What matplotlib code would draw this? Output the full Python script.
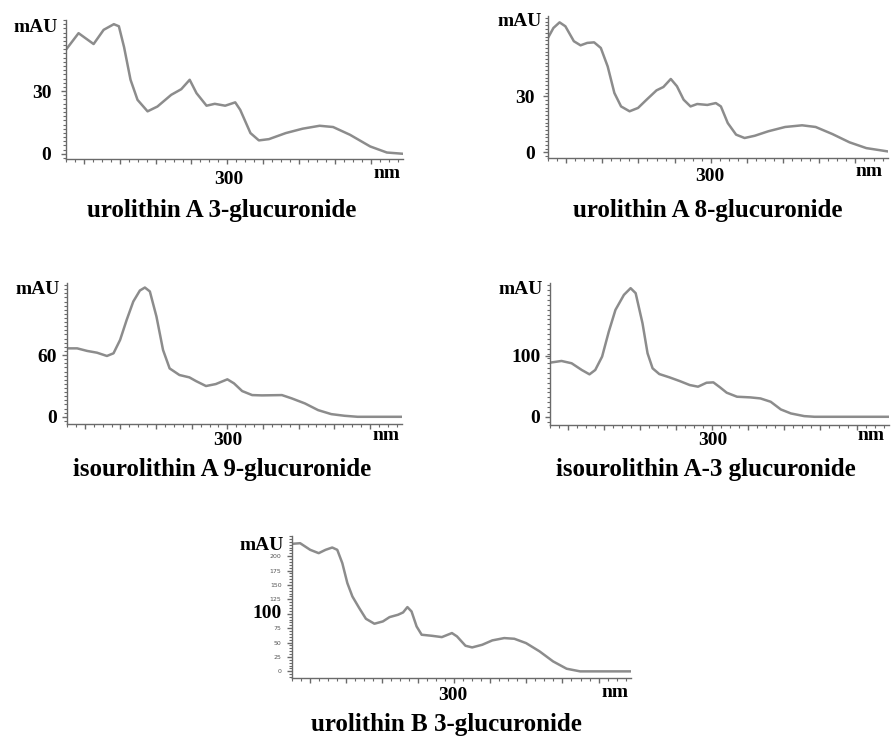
"""UV spectra of urolithin glucuronides (DAD, 210-400 nm)."""

import matplotlib

matplotlib.use("Agg")
import matplotlib.pyplot as plt
from matplotlib.ticker import MultipleLocator, FixedLocator

W, H = 891, 743
SERIF = "Liberation Serif"
CURVE = "#8c8c8c"
AXIS = "#6a6a6a"
LABEL_SIZE = 14
TITLE_SIZE = 18

# urolithin A 3-glucuronide
uroA3_nm = [210, 217, 225.4, 231, 236.7, 239.5, 242.4, 246, 249.9, 255.5, 261, 268.7,
            274.3, 279, 282.8, 288.4, 293, 298.8, 304.4, 307.2, 312.9, 317.6, 323.2,
            332.6, 342, 351.5, 359, 368.4, 379.7, 389, 398]
uroA3_mau = [49.8, 57.7, 52.5, 59.3, 62, 61, 51, 35.4, 25.8, 20.3, 22.6, 28.2,
             30.9, 35.4, 29, 23, 23.9, 23, 24.6, 21, 9.9, 6.4, 7,
             9.9, 12, 13.4, 12.8, 9.1, 3.5, 0.6, 0]

# urolithin A 8-glucuronide
uroA8_nm = [210, 213, 216.4, 219.6, 224.3, 228, 231.7, 235.5, 239.2, 243, 246.7, 250.4,
            255.1, 259.8, 264.5, 270, 273.8, 277.9, 281.3, 285, 288.8, 292.5, 298.1,
            302.8, 305.6, 309.4, 314, 318.7, 324.3, 331.8, 341.1, 350.5, 358, 367.3,
            376.7, 386, 398]
uroA8_mau = [61.3, 66.6, 69.6, 67.5, 59.5, 57.3, 58.6, 58.9, 55.9, 46, 31.8, 24.6,
             22, 23.8, 28.2, 33.2, 35, 39.3, 35.4, 28.2, 24.6, 25.9, 25.4,
             26.4, 24.6, 15.7, 9.5, 7.7, 8.9, 11.3, 13.6, 14.5, 13.6, 9.8,
             5.4, 2.3, 0.5]

# isourolithin A 9-glucuronide
iso9_nm = [210, 215.7, 221.3, 226.8, 232.4, 236.1, 239.8, 243.5, 247.2, 250.9, 253.7,
           256.5, 260.2, 263.9, 267.6, 273.1, 278.7, 282.4, 288, 293.5, 300, 303.7,
           308.3, 313.9, 319.4, 330.6, 336.1, 343.5, 350.9, 358.3, 365.7, 373.1, 398]
iso9_mau = [66.5, 66.5, 64, 62.3, 59.1, 61.7, 74.7, 94.2, 112, 122.7, 125.6,
            121.8, 97.4, 64.9, 47, 40.6, 38.3, 34.7, 29.9, 31.8, 36.4, 32.5,
            25, 21.1, 20.8, 21.1, 17.9, 13, 6.5, 2.6, 1, 0, 0]

# isourolithin A 3-glucuronide
iso3_nm = [210, 216.4, 222, 227.6, 231.9, 235.1, 238.9, 242.6, 246.3, 251, 254.7,
           257.5, 261.3, 264.1, 266.9, 270.6, 276.3, 281.9, 287.5, 292.1, 296.8,
           300.6, 304.3, 308, 313.7, 321.1, 326.7, 332.4, 338, 343.6, 351, 356.7, 398]
iso3_mau = [89, 91.8, 88, 77, 69.8, 77, 99, 140, 175.8, 200.5, 211.5,
            203.3, 153.8, 104.4, 79.7, 70.3, 64.8, 58.8, 52.2, 49.5, 56,
            56.6, 48.4, 39.6, 33, 31.9, 30.2, 24.7, 12.1, 5.5, 1.1, 0, 0]

# urolithin B 3-glucuronide
uroB3_nm = [210, 214.5, 220.1, 224.8, 228.6, 232.3, 235.1, 237.9, 240.7, 243.5, 247.3,
            251, 255.7, 260.4, 264.1, 268.8, 271.6, 274, 276.3, 279.1, 281.9, 287.5,
            293.1, 298.7, 301.5, 306.2, 309.9, 315.5, 321.1, 327.7, 333.3, 339.8,
            347.3, 354.8, 362.3, 369.8, 398]
uroB3_mau = [221.4, 222.5, 211, 205.2, 211, 215, 211, 187.9, 153.2, 130, 109.8,
             91.3, 82.7, 86.7, 94.2, 98.3, 102.3, 111.6, 104, 78, 63.6, 61.8,
             59.5, 66.5, 60.7, 44.5, 41.6, 46.2, 53.8, 57.8, 56.6, 49.1,
             34.7, 17.3, 4.6, 0, 0]
uroB3_small_ticks = [0, 25, 50, 75, 125, 150, 175, 200]

fig = plt.figure(figsize=(W / 100, H / 100), dpi=100)


def px(x, y):
    return x / W, 1 - y / H


def add_axes(left, right, top, bottom):
    return fig.add_axes([left / W, 1 - bottom / H, (right - left) / W, (bottom - top) / H])


def text(x, y, s, size=LABEL_SIZE, ha="center", **kw):
    fig.text(*px(x, y), s, fontsize=size, ha=ha, va="center",
             family=SERIF, weight="bold", **kw)


def spectrum(box, nm, mau, ylim, yminor, yticks, ylabels, pad=5.5):
    ax = add_axes(*box)
    ax.plot(nm, mau, color=CURVE, lw=1.8, solid_capstyle="round", solid_joinstyle="round")
    ax.set_xlim(210, 398)
    ax.set_ylim(*ylim)
    for side in ("top", "right"):
        ax.spines[side].set_visible(False)
    for side in ("left", "bottom"):
        ax.spines[side].set_color(AXIS)
        ax.spines[side].set_linewidth(1.0)
    ax.xaxis.set_major_locator(MultipleLocator(20))
    ax.xaxis.set_minor_locator(MultipleLocator(5))
    ax.set_xticklabels([])
    ax.yaxis.set_major_locator(FixedLocator(yticks))
    ax.yaxis.set_minor_locator(MultipleLocator(yminor))
    ax.set_yticklabels(ylabels)
    ax.tick_params(which="major", length=3.5, width=1.0, color=AXIS)
    ax.tick_params(axis="y", which="major", pad=pad)
    ax.tick_params(which="minor", length=2, width=0.8, color=AXIS)
    for lab in ax.get_yticklabels():
        lab.set_fontfamily(SERIF)
        lab.set_fontweight("bold")
        lab.set_fontsize(LABEL_SIZE)
    return ax


spectrum((66, 403, 20, 159), uroA3_nm, uroA3_mau, (-2.5, 64), 2, [0, 30], ["0", "30"],
         pad=7)
text(35.5, 27, "mAU")
text(229, 179.5, "300")
text(387, 173, "nm")
text(222, 211, "urolithin A 3-glucuronide", size=TITLE_SIZE)

spectrum((548, 888, 16, 158), uroA8_nm, uroA8_mau, (-3, 73), 2, [0, 30], ["0", "30"],
         pad=6)
text(519.5, 21.5, "mAU")
text(710, 176.5, "300")
text(868.5, 172, "nm")
text(708, 211, "urolithin A 8-glucuronide", size=TITLE_SIZE)

spectrum((67, 402, 283, 424), iso9_nm, iso9_mau, (-7, 130), 4, [0, 60], ["0", "60"],
         pad=3.5)
text(38, 289.5, "mAU")
text(228, 441, "300")
text(386, 436, "nm")
text(222, 470, "isourolithin A 9-glucuronide", size=TITLE_SIZE)

spectrum((550, 889, 283, 425), iso3_nm, iso3_mau, (-13.5, 220), 8, [0, 100], ["0", "100"],
         pad=3.5)
text(520.5, 289.5, "mAU")
text(712.5, 441, "300")
text(871.5, 436, "nm")
text(706, 470, "isourolithin A-3 glucuronide", size=TITLE_SIZE)

ax5 = spectrum((292, 631, 536, 678), uroB3_nm, uroB3_mau, (-11.5, 235), 5,
               uroB3_small_ticks + [100], [str(v) for v in uroB3_small_ticks] + [""],
               pad=4)
for lab in ax5.get_yticklabels():
    lab.set_fontfamily("DejaVu Sans")
    lab.set_fontweight("normal")
    lab.set_fontsize(4.5)
    lab.set_color("#555555")
text(282, 614, "100", ha="right")
text(262, 545, "mAU", bbox=dict(facecolor="white", edgecolor="none", pad=0.3))
text(452.5, 695, "300")
text(615, 692.5, "nm")
text(446, 724.5, "urolithin B 3-glucuronide", size=TITLE_SIZE)

fig.savefig("out.png", dpi=100)
